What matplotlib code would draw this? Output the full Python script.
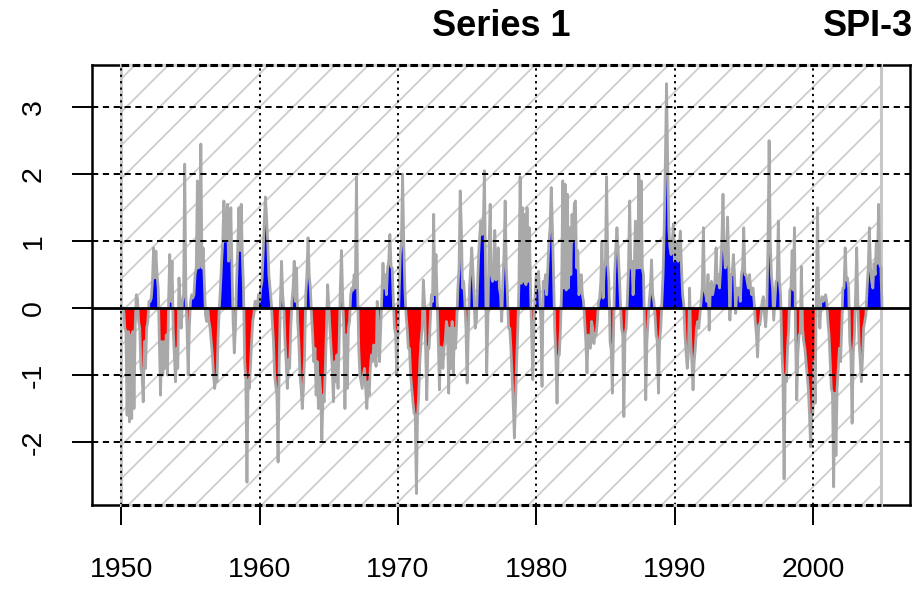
import numpy as np
import matplotlib
matplotlib.use("Agg")
import matplotlib.pyplot as plt
from matplotlib.patches import Rectangle

plt.rcParams['font.family'] = ['Liberation Sans', 'DejaVu Sans']
plt.rcParams['hatch.linewidth'] = 1.3
plt.rcParams['lines.scale_dashes'] = False

# ---------------- data ----------------
title = "Series 1"
index_label = "SPI-3"
start_year = 1950
first_month = 3          # series starts in April 1950 (0 = Jan)
ref_start = 1950.0
ref_end = 2004 + 11 / 12

x_ticks = [1950, 1960, 1970, 1980, 1990, 2000]
y_ticks = [-2, -1, 0, 1, 2, 3]

spi_1950s = [
    -0.3, -0.35, -1.6, -0.35, -1.7, -0.4, -1.65, -0.35, -1.5,
    -0.3, 0.2, 0.15, -0.2, -0.3, -0.9, -1.0, -1.4, -0.5, -0.9, -0.3, -0.2,
    0.1, 0.1, 0.15, 0.4, 0.9, 0.45, 0.85, 0.5, 0.3, -0.5, -1.3, -0.5,
    -1.0, -0.5, -0.9, -0.4, -1.0, 0.1, 0.8, 0.1, 0.7, -0.3, -0.7, -1.1,
    -0.6, -0.9, 0.45, 0.1, -0.3, 0.1, 0.2, 2.15, 0.2, -0.3, -1.0, -0.3,
    0.1, 0.2, 0.15, 0.2, 0.5, 0.6, 1.9, 0.6, 0.7, 2.45, 0.6, 0.9,
    0.4, -0.1, -0.2, 0.0, -0.2, -0.3, -0.5, -0.7, -1.0, -1.2, -1.0, -1.1,
    -0.4, 0.0, 0.3, 0.7, 1.0, 1.6, 1.0, 1.1, 1.55, 0.7, 0.8, 1.5,
    0.6, -0.2, -0.67, -0.3, 0.4, 0.9, 1.5, 0.86, 1.55, 0.8, 0.3, -0.8,
    -1.07, -2.6, -1.07, -1.2, -0.9, -0.5, -0.2, -0.1, 0.1, 0.1, 0.0, 0.2,
]
spi_1960s = [
    0.1, 0.3, 0.4, 0.8, 1.3, 1.66, 1.36, 1.0, 0.5, 0.3, 0.1, -0.2,
    -0.5, -1.0, -1.17, -1.3, -2.3, -0.8, 0.1, 0.7, 0.2, 0.0, -0.5, -0.8,
    -1.2, -0.77, -0.9, -0.3, 0.1, 0.3, 0.7, 0.1, 0.6, -0.2, -0.5, -1.0,
    -1.2, -1.5, -1.2, -0.7, 0.2, 0.5, 1.05, 0.5, 0.3, -0.1, -0.4, -0.8,
    -0.6, -1.3, -0.8, -1.5, -1.0, -1.27, -1.97, -1.3, -1.4, -0.9, -0.3, 0.35,
    0.05, -0.3, -0.6, -0.9, -1.4, -0.8, -1.1, -0.7, -1.2, -0.5, 0.3, 0.86,
    0.2, -0.3, -1.5, -0.4, -1.2, -0.3, -0.2, 0.2, 0.3, 0.27, 0.5, 0.3,
    1.96, 0.3, -0.6, -1.0, -1.1, -1.2, -1.0, -0.9, -1.2, -1.5, -1.1, -1.3,
    -0.9, -0.7, -0.8, -0.55, -0.6, -0.87, 0.1, -0.3, -0.8, -0.3, 0.2, 0.67,
    0.3, 0.5, 0.2, 0.6, 0.7, 1.1, 0.62, 0.6, 0.1, -0.3, -0.4, -1.0,
]
spi_1970s = [
    -0.38, 0.2, 0.8, 1.0, 2.0, 1.0, 0.3, -0.1, -0.3, -0.6, -0.6, -1.0,
    -1.2, -1.4, -1.57, -1.6, -2.77, -1.6, -1.3, -0.8, -0.5, -0.3, 0.42, 0.1,
    -0.6, -1.37, -0.58, -0.6, -0.2, 0.2, 0.1, 1.4, 0.2, 0.8, 0.1, -0.5,
    -1.22, -0.58, -0.6, -0.9, -0.58, -0.5, -0.2, -0.3, -1.27, -0.3, -0.9, -0.2,
    -1.0, -0.3, -0.6, -0.2, 0.3, 0.6, 1.75, 1.2, 0.3, 0.4, 0.1, -0.3,
    -1.12, -0.4, 0.3, 0.57, 0.9, 0.57, 0.2, -0.3, -0.2, 0.3, 0.8, 1.1,
    1.3, 1.1, 1.2, 2.05, 0.5, -0.97, -0.2, 0.9, 1.55, 0.5, 0.4, 0.45,
    1.16, 0.42, 0.5, 0.9, 0.3, 0.2, -0.2, 0.4, 0.8, 1.6, 0.6, 0.2,
    -0.3, -0.3, -0.6, -1.0, -1.42, -1.94, -1.42, -0.8, -0.3, 0.4, 1.96, 0.37,
    1.5, 0.4, 1.4, 0.35, 1.5, 0.4, 1.2, 0.3, -0.4, -1.07, -0.3, 0.2,
]
spi_1980s = [
    0.5, 0.3, 0.55, 0.2, -0.2, -1.17, 0.4, 0.3, 0.5, 0.2, 0.6, 1.0,
    1.2, 1.8, 1.2, 0.5, -0.3, -0.72, -1.42, -0.72, -0.7, -0.3, 0.3, 1.9,
    0.3, 1.85, 0.27, 1.7, 0.3, 1.2, 0.5, 1.4, 1.0, 1.56, 1.6, 0.6,
    0.86, 0.2, 0.3, 0.5, 0.2, 0.1, -0.2, -0.5, -0.97, -0.4, -0.5, -0.6,
    -0.2, -0.3, -0.53, -0.38, -0.4, -0.2, 0.1, 0.15, 0.4, 1.0, 0.15, 0.6,
    0.67, 1.96, 0.67, 0.4, -0.5, -0.62, -1.27, -0.4, 0.5, 0.9, 1.2, 0.9,
    0.5, 0.1, -0.3, -0.4, -1.62, -0.4, -0.3, 0.1, 0.6, 1.6, 0.6, 0.7,
    0.2, 0.57, 1.3, 0.6, 0.6, 2.0, 0.6, 1.9, 0.6, 0.5, -0.3, -1.37,
    -0.5, -0.2, 0.1, 0.3, 0.72, 0.2, 0.1, -0.1, -0.4, -0.5, -1.27, -0.5,
    -0.3, 0.1, 0.5, 1.2, 2.2, 3.35, 2.2, 1.2, 0.9, 0.8, 1.0, 1.26,
]
spi_1990s = [
    0.7, 0.8, 1.0, 0.7, 0.9, 1.15, 0.6, 0.2, 0.05, -0.4, -0.67, -0.9,
    -0.67, 0.3, -0.5, -0.8, -1.22, -0.8, -0.6, -0.3, -0.2, -0.3, -0.1, 0.1,
    0.3, 1.2, 0.27, 0.2, 0.1, 0.5, -0.33, 0.3, 0.4, 0.2, 0.3, 0.4,
    0.9, 0.37, 0.5, 0.3, 0.6, 1.0, 1.7, 0.9, 0.6, 0.67, 1.36, 0.67,
    -0.18, 0.5, 0.5, 0.8, 0.5, -0.08, 0.3, 0.2, 0.3, 0.1, 0.5, 0.6,
    1.2, 0.5, 0.5, 0.4, 0.3, 0.5, 0.3, 0.2, 0.3, 0.1, -0.2, -0.4,
    -0.73, -0.25, -0.25, -0.1, 0.1, 0.17, -0.1, -0.28, 0.0, 0.9, 2.5, 1.0,
    0.5, 0.3, -0.18, 0.1, 0.4, 0.42, 1.3, 0.4, 0.2, -0.6, -1.0, -2.55,
    -1.0, -1.1, -0.6, -0.3, 0.27, 0.3, 0.86, 0.27, 1.2, -0.5, -1.37, -0.67,
    -0.4, -0.38, 0.62, -0.3, -0.5, -0.6, -0.8, -1.0, -1.2, -1.57, -2.07, -1.6,
]
spi_2000s = [
    -1.57, -0.8, -1.42, 0.3, 1.5, 0.2, -0.3, 0.1, 0.17, 0.1, 0.15, 0.2,
    0.1, -0.2, -0.4, -0.8, -1.2, -1.27, -2.67, -1.27, -2.2, -1.2, -0.9, -0.6,
    -0.8, -0.3, 0.3, 0.3, 0.9, 0.42, 0.45, 0.3, -0.5, -0.7, -1.72, -0.7,
    -0.4, 0.2, 0.9, 0.1, -0.5, -0.77, -1.1, -0.77, -0.3, -0.2, -0.1, 0.3,
    0.6, 1.2, 0.6, 0.4, 0.3, 0.67, 0.5, 1.0, 0.67, 1.55, 0.65, 0.6,
]

# ---------------- build series ----------------
values = np.array(spi_1950s + spi_1960s + spi_1970s + spi_1980s + spi_1990s + spi_2000s)
n = len(values)
times = start_year + (first_month + np.arange(n)) / 12.0
# padded with zeros at both ends (as the SPEI plot does)
tt = np.concatenate([[times[0] - 1 / 12], times, [times[-1] + 1 / 12]])
vv = np.concatenate([[0.0], values, [0.0]])
pos = np.where(vv > 0, vv, 0.0)
neg = np.where(vv <= 0, vv, 0.0)

# ---------------- figure ----------------
W, H = 919, 606
fig = plt.figure(figsize=(W / 100, H / 100), dpi=100)
ax = fig.add_axes([92 / W, (H - 505) / H, (910 - 92) / W, (505 - 65) / H])
xlim = (1947.88, 2007.02)
ylim = (-2.94, 3.63)
ax.set_xlim(*xlim)
ax.set_ylim(*ylim)

# reference period hatched area
ax.add_patch(Rectangle((ref_start, ylim[0]), ref_end - ref_start, ylim[1] - ylim[0],
                       fill=False, hatch='/', edgecolor='#cdcdcd', linewidth=0, zorder=1))
for xv in (ref_start, ref_end):
    ax.axvline(xv, color='#c8c8c8', lw=2.2, zorder=1.2)

# positive / negative fills and series line
ax.fill_between(tt, 0, pos, color='#0000ff', linewidth=0, zorder=2)
ax.fill_between(tt, 0, neg, color='#ff0000', linewidth=0, zorder=2)
ax.plot(tt, vv, color='#a9a9a9', lw=2.0, zorder=3)
ax.axhline(0, color='black', lw=2.0, zorder=4)

# grid (on top)
for yv in y_ticks:
    if yv != 0:
        ax.axhline(yv, color='black', lw=1.4, dashes=(4.5, 3.3), zorder=5)
for xv in x_ticks:
    ax.axvline(xv, color='black', lw=1.4, dashes=(1.6, 3.0), zorder=5)

# dashed edges of the reference area over the frame
for yv in ylim:
    ax.plot([ref_start, ref_end], [yv, yv], color='#d5d5d5', lw=2.2, clip_on=False, zorder=6)
    ax.plot([ref_start, ref_end], [yv, yv], color='black', lw=2.2, dashes=(5.5, 2.5),
            clip_on=False, zorder=6.1)

for s in ax.spines.values():
    s.set_linewidth(1.8)
    s.set_color('black')

ax.set_xticks(x_ticks)
ax.set_xticklabels([str(v) for v in x_ticks])
ax.set_yticks(y_ticks)
ax.set_yticklabels([str(v) for v in y_ticks], rotation=90, va='center')
ax.tick_params(axis='both', direction='out', length=14.4, width=1.4, labelsize=20.5, colors='black')
ax.tick_params(axis='x', pad=23)
ax.tick_params(axis='y', pad=18)

fig.text(501 / W, 1 - 27 / H, title, ha='center', va='center', fontsize=26, fontweight='bold')
fig.text(913 / W, 1 - 27 / H, index_label, ha='right', va='center', fontsize=26, fontweight='bold')

fig.savefig('out.png', dpi=100)
